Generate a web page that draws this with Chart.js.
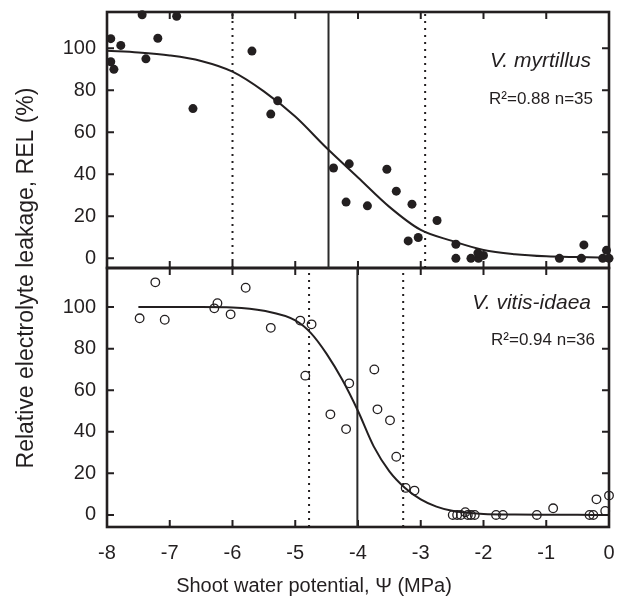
<!DOCTYPE html>
<html>
<head>
<meta charset="utf-8">
<script src="https://cdn.jsdelivr.net/npm/chart.js@4.4.1/dist/chart.umd.min.js"></script>
<style>
  html, body { margin: 0; padding: 0; background: #fff; }
</style>
</head>
<body>
<canvas id="chart" width="624" height="603"></canvas>
<script>
const xTicks = [-8, -7, -6, -5, -4, -3, -2, -1, 0];
const yTicks = [0, 20, 40, 60, 80, 100];

// V. myrtillus (top panel, filled dots)
const myrtX = [-7.94, -7.94, -7.89, -7.78, -7.44, -7.38, -7.19, -6.89, -6.63, -5.69, -5.39, -5.28,
  -4.39, -4.14, -4.19, -3.85, -3.54, -3.39, -3.14, -3.2, -3.04, -2.74, -2.44, -2.44, -2.2, -2.08,
  -2.09, -2.0, -0.79, -0.44, -0.4, -0.1, -0.04, 0];
const myrtY = [104.6, 93.6, 90, 101.4, 116, 95, 104.8, 115.3, 71.3, 98.7, 68.7, 75,
  43, 45, 26.8, 25, 42.4, 32, 25.8, 8.3, 9.9, 18, 6.7, 0, 0, 0,
  2.5, 1.4, 0, 0, 6.4, 0, 3.8, 0];
const myrtCurveX = [-8, -7.5, -7, -6.5, -6, -5.5, -5, -4.5, -4, -3.5, -3, -2.5, -2, -1.5, -1, -0.5, 0];
const myrtCurveY = [98.8, 98, 96.6, 94, 88.9, 79.5, 67.5, 52.5, 38.5, 24.5, 13.5, 8.3, 4.0, 2.0, 1.0, 0.6, 0.3];
const myrtDotted = [-6.0, -2.93];
const myrtSolid = [-4.47];

// V. vitis-idaea (bottom panel, open circles)
const vitisX = [-7.48, -7.23, -7.08, -6.29, -6.24, -6.03, -5.79, -5.39, -4.92, -4.74, -4.84, -4.44,
  -4.19, -4.14, -3.74, -3.69, -3.49, -3.39, -3.24, -3.1, -2.49, -2.42, -2.36, -2.29, -2.25, -2.2,
  -2.14, -1.8, -1.69, -1.15, -0.89, -0.31, -0.25, -0.2, -0.06, 0];
const vitisY = [94.6, 111.9, 93.9, 99.4, 101.9, 96.5, 109.3, 90, 93.5, 91.7, 67, 48.4,
  41.3, 63.3, 70, 50.8, 45.5, 28, 13, 11.7, 0, 0, 0, 1.3, 0, 0,
  0, 0, 0, 0, 3.2, 0, 0, 7.5, 1.9, 9.3];
const vitisCurveX = [-7.5, -7, -6.5, -6, -5.5, -5, -4.75, -4.5, -4.25, -4, -3.75, -3.5, -3.25, -3, -2.75, -2.5, -2, -1.5, -1, -0.5, 0];
const vitisCurveY = [100, 100, 100, 99.8, 98.2, 93.6, 87.5, 77.5, 65, 50, 33, 21, 13, 7.5, 4, 2, 0.5, 0.2, 0.1, 0.05, 0];
const vitisDotted = [-4.78, -3.28];
const vitisSolid = [-4.01];

const panelNames = ['V. myrtillus', 'V. vitis-idaea'];
const panelStats = ['R\u00B2=0.88 n=35', 'R\u00B2=0.94 n=36'];
const xTitle = 'Shoot water potential, \u03A8 (MPa)';
const yTitle = 'Relative electrolyte leakage, REL (%)';

const ink = '#231f20';
const fontFamily = '"Liberation Sans", Arial, Helvetica, sans-serif';
const topRange = [-4.6, 117.3];
const botRange = [-5.8, 118.8];

function pts(xs, ys) {
  return xs.map((x, i) => ({ x: x, y: ys[i] }));
}

function vline(x, range, axis, dotted) {
  return {
    data: [{ x: x, y: range[0] }, { x: x, y: range[1] }],
    yAxisID: axis,
    showLine: true,
    borderColor: dotted ? ink : '#2a2a2a',
    borderWidth: 2,
    borderDash: dotted ? [2, 5] : [],
    pointRadius: 0
  };
}

const datasets = [
  {
    data: pts(myrtX, myrtY), yAxisID: 'yTop',
    pointRadius: 4.5, pointBackgroundColor: ink, pointBorderColor: ink, pointBorderWidth: 0,
    clip: false
  },
  {
    data: pts(vitisX, vitisY), yAxisID: 'yBot',
    pointRadius: 4.3, pointBackgroundColor: 'rgba(0,0,0,0)', pointBorderColor: ink, pointBorderWidth: 1.3,
    clip: false
  },
  {
    data: pts(myrtCurveX, myrtCurveY), yAxisID: 'yTop', showLine: true,
    borderColor: ink, borderWidth: 2, pointRadius: 0, cubicInterpolationMode: 'monotone'
  },
  {
    data: pts(vitisCurveX, vitisCurveY), yAxisID: 'yBot', showLine: true,
    borderColor: ink, borderWidth: 2, pointRadius: 0, cubicInterpolationMode: 'monotone'
  }
];
myrtDotted.forEach(v => datasets.push(vline(v, topRange, 'yTop', true)));
myrtSolid.forEach(v => datasets.push(vline(v, topRange, 'yTop', false)));
vitisDotted.forEach(v => datasets.push(vline(v, botRange, 'yBot', true)));
vitisSolid.forEach(v => datasets.push(vline(v, botRange, 'yBot', false)));

// frame round each panel with inward tick marks, plus the free texts
const framePlugin = {
  id: 'frame',
  beforeDatasetsDraw(chart) {
    const ctx = chart.ctx;
    const x = chart.scales.x;
    ['yTop', 'yBot'].forEach(id => {
      const y = chart.scales[id];
      ctx.save();
      ctx.strokeStyle = ink;
      ctx.lineWidth = 2;
      ctx.beginPath();
      xTicks.forEach(v => {
        const px = x.getPixelForValue(v);
        ctx.moveTo(px, y.top);
        ctx.lineTo(px, y.top + 7);
        ctx.moveTo(px, y.bottom);
        ctx.lineTo(px, y.bottom - 7);
      });
      yTicks.forEach(v => {
        const py = y.getPixelForValue(v);
        ctx.moveTo(x.left, py);
        ctx.lineTo(x.left + 7, py);
        ctx.moveTo(x.right, py);
        ctx.lineTo(x.right - 7, py);
      });
      ctx.stroke();
      ctx.lineWidth = 2.6;
      ctx.strokeRect(x.left, y.top, x.right - x.left, y.bottom - y.top);
      ctx.restore();
    });
  },
  afterDraw(chart) {
    const ctx = chart.ctx;
    const x = chart.scales.x;
    const yt = chart.scales.yTop;
    const yb = chart.scales.yBot;
    ctx.save();
    ctx.fillStyle = ink;
    ctx.textBaseline = 'middle';

    // shared y title
    ctx.save();
    ctx.translate(27, 278);
    ctx.rotate(-Math.PI / 2);
    ctx.textAlign = 'center';
    ctx.font = '23px ' + fontFamily;
    ctx.fillText(yTitle, 0, 0);
    ctx.restore();

    // x title
    ctx.textAlign = 'center';
    ctx.font = '20px ' + fontFamily;
    ctx.fillText(xTitle, 314, 586);

    ctx.textAlign = 'right';
    ctx.font = 'italic 21px ' + fontFamily;
    ctx.fillText(panelNames[0], x.right - 18, yt.top + 49);
    ctx.fillText(panelNames[1], x.right - 18, yb.top + 35);
    ctx.font = '17px ' + fontFamily;
    ctx.fillText(panelStats[0], x.right - 16, yt.top + 87);
    ctx.fillText(panelStats[1], x.right - 14, yb.top + 72);
    ctx.restore();
  }
};

function yAxis(range, weight) {
  return {
    type: 'linear',
    position: 'left',
    stack: 'panels',
    stackWeight: weight,
    min: range[0],
    max: range[1],
    grid: { display: false, drawTicks: false },
    border: { display: false },
    afterBuildTicks: s => { s.ticks = yTicks.map(v => ({ value: v })); },
    afterFit: s => { s.width = 107; s.paddingTop = 0; s.paddingBottom = 0; },
    ticks: {
      color: ink,
      padding: 11,
      font: { family: fontFamily, size: 20 }
    }
  };
}

new Chart(document.getElementById('chart'), {
  type: 'scatter',
  data: { datasets: datasets },
  options: {
    responsive: false,
    animation: false,
    layout: { padding: { top: 12, right: 15, left: 0, bottom: 0 } },
    plugins: {
      legend: { display: false },
      tooltip: { enabled: false }
    },
    scales: {
      x: {
        type: 'linear',
        min: -8,
        max: 0,
        grid: { display: false, drawTicks: false },
        border: { display: false },
        afterBuildTicks: s => { s.ticks = xTicks.map(v => ({ value: v })); },
        afterFit: s => { s.height = 76; s.paddingLeft = 0; s.paddingRight = 0; },
        ticks: {
          color: ink,
          padding: 14,
          maxRotation: 0,
          font: { family: fontFamily, size: 20 }
        }
      },
      yBot: yAxis(botRange, 259),
      yTop: yAxis(topRange, 256)
    }
  },
  plugins: [framePlugin]
});
</script>
</body>
</html>
